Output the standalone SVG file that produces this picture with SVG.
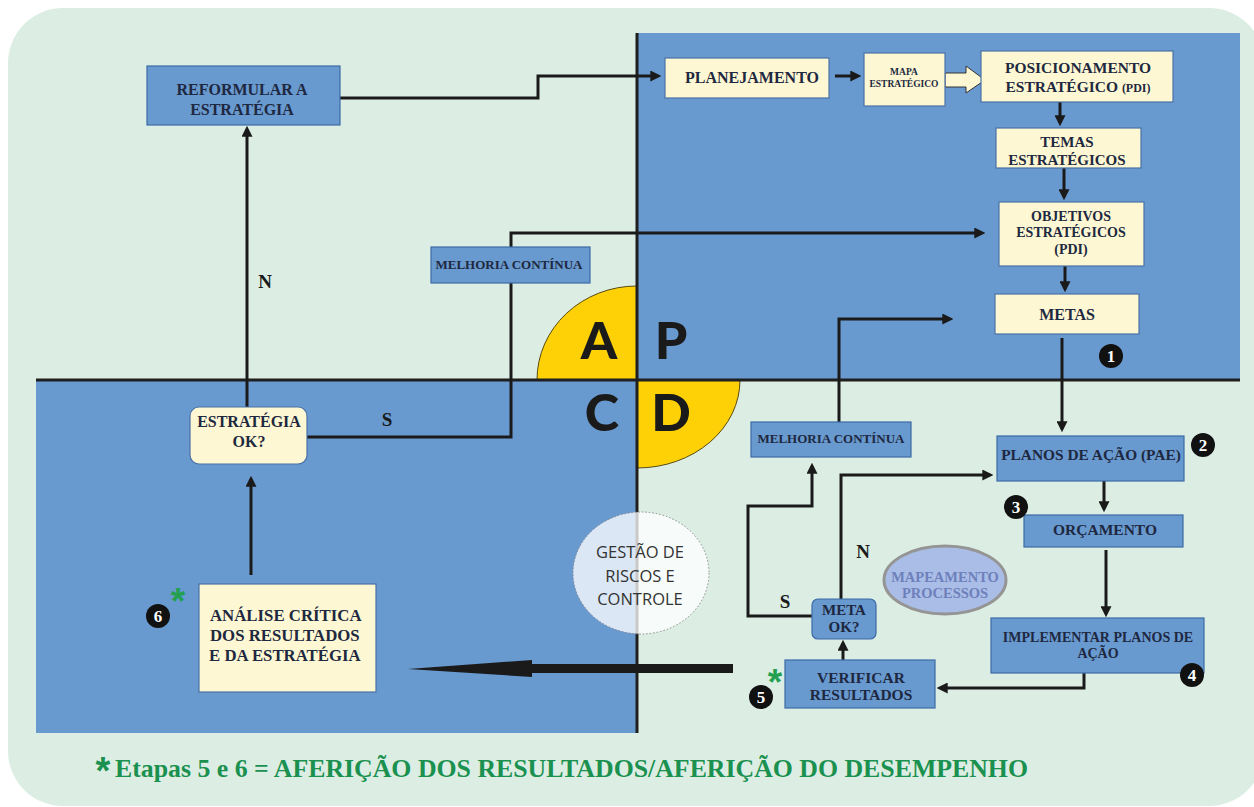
<svg xmlns="http://www.w3.org/2000/svg" width="1254" height="807" viewBox="0 0 1254 807">
<defs>
<marker id="ah" viewBox="0 0 10 10" refX="7" refY="5" markerWidth="11" markerHeight="11" markerUnits="userSpaceOnUse" orient="auto"><path d="M0,0 L10,5 L0,10 Z" fill="#1a1a1a"/></marker>
</defs>
<style>
.bx{fill:#6899CF;stroke:#3D6BA6;stroke-width:1.2}
.cr{fill:#FDF8D3;stroke:#4B72A6;stroke-width:1.2}
.t{font-family:'Liberation Serif',serif;font-weight:bold;fill:#1E2840;text-anchor:middle}
.c{fill:none;stroke:#1a1a1a;stroke-width:3;marker-end:url(#ah)}
.badge circle{fill:#111}
.badge text{font-family:'Liberation Serif',serif;font-weight:bold;font-size:17px;fill:#fff;text-anchor:middle}
.big{font-family:Lato,'Noto Sans',sans-serif;font-weight:900;font-size:52px;fill:#1a1a1a;text-anchor:middle}
.lbl{font-family:'Liberation Serif',serif;font-weight:bold;font-size:19px;fill:#1a1a1a;text-anchor:middle}
.ast{font-family:'Liberation Sans',sans-serif;font-weight:bold;font-size:37px;fill:#22A050;text-anchor:middle}
</style>
<rect x="0" y="0" width="1254" height="807" fill="#ffffff"/>
<rect x="8" y="8" width="1256" height="798" rx="55" ry="55" fill="#DCEEE4"/>
<g id="quadrants">
<rect x="637" y="33" width="603" height="347" fill="#6899CF"/>
<rect x="36" y="380" width="601" height="353" fill="#6899CF"/>
<path d="M637,380 L537,380 A100,94 0 0 1 637,286 Z" fill="#FDD106" stroke="#5a4a10" stroke-width="1"/>
<path d="M637,380 L740,380 A103,88 0 0 1 637,468 Z" fill="#FDD106" stroke="#5a4a10" stroke-width="1"/>
<line x1="36" y1="380" x2="1240" y2="380" stroke="#1f1f1f" stroke-width="3"/>
<line x1="637" y1="33" x2="637" y2="733" stroke="#1f1f1f" stroke-width="3"/>
<text class="big" x="599" y="359">A</text>
<text class="big" x="671" y="359">P</text>
<text class="big" x="602" y="431">C</text>
<text class="big" x="671" y="431">D</text>
</g>
<g id="gestao-riscos">
<ellipse cx="641" cy="573" rx="68" ry="61" fill="#ffffff" fill-opacity="0.76" stroke="#8a8a8a" stroke-width="1" stroke-dasharray="1.5,2"/>
<text font-family="'Open Sans','Noto Sans',sans-serif" font-size="16.5" fill="#333" text-anchor="middle"><tspan x="640" y="558">GESTÃO DE</tspan><tspan x="640" y="582">RISCOS E</tspan><tspan x="640" y="605">CONTROLE</tspan></text>
</g>
<g id="connectors">
<path class="c" d="M340,98 H538 V76 H658"/>
<path class="c" d="M835,76 H858"/>
<path class="c" d="M1060,102 V123"/>
<path class="c" d="M1064,168 V197"/>
<path class="c" d="M1065,266 V289"/>
<path class="c" d="M1062,338 V429"/>
<path class="c" d="M247,407 V129"/>
<path class="c" d="M307,437 H511 V233 H982"/>
<path class="c" d="M251,575 V479"/>
<path class="c" d="M839,422 V319 H950"/>
<path class="c" d="M812,616 H748 V506 H812 V466"/>
<path class="c" d="M841,599 V475 H990"/>
<path class="c" d="M1104,481 V509"/>
<path class="c" d="M1106,550 V614"/>
<path class="c" d="M1084,673 V688 H940"/>
<path class="c" d="M843,660 V643"/>
<polygon points="733,664 532,664 532,660 408,669 532,677 532,673 733,673" fill="#1a1a1a"/>
<polygon points="945,73 966,73 966,66 985,80 966,93 966,87 945,87" fill="#FDF8D3" stroke="#333" stroke-width="1"/>
<text class="lbl" x="265" y="288">N</text>
<text class="lbl" x="387" y="426">S</text>
<text class="lbl" x="863" y="558">N</text>
<text class="lbl" x="785" y="608">S</text>
</g>
<g id="reformular"><rect class="bx" x="147" y="66" width="193" height="59"/><text class="t" font-size="16"><tspan x="242" y="95">REFORMULAR A</tspan><tspan x="242" y="115">ESTRATÉGIA</tspan></text></g>
<g id="planejamento"><rect class="cr" x="665" y="58" width="164" height="40"/><text class="t" font-size="16" x="752" y="83">PLANEJAMENTO</text></g>
<g id="mapa"><rect class="cr" x="864" y="53" width="81" height="53" stroke="#333"/><text class="t" font-size="9.5"><tspan x="904" y="75">MAPA</tspan><tspan x="904" y="87">ESTRATÉGICO</tspan></text></g>
<g id="posicionamento"><rect class="cr" x="981" y="51" width="192" height="51"/><text class="t" font-size="15.5"><tspan x="1078" y="73">POSICIONAMENTO</tspan><tspan x="1078" y="92">ESTRATÉGICO <tspan font-size="12">(PDI)</tspan></tspan></text></g>
<g id="temas"><rect class="cr" x="996" y="128" width="145" height="40"/><text class="t" font-size="15"><tspan x="1067" y="147">TEMAS</tspan><tspan x="1067" y="165">ESTRATÉGICOS</tspan></text></g>
<g id="objetivos"><rect class="cr" x="999" y="202" width="145" height="64"/><text class="t" font-size="14"><tspan x="1071" y="221">OBJETIVOS</tspan><tspan x="1071" y="237">ESTRATÉGICOS</tspan><tspan x="1071" y="254">(PDI)</tspan></text></g>
<g id="metas"><rect class="cr" x="995" y="294" width="144" height="40"/><text class="t" font-size="16" x="1067" y="320">METAS</text></g>
<g id="melhoria-1"><rect class="bx" x="431" y="247" width="159" height="36"/><text class="t" font-size="13" x="509" y="269">MELHORIA CONTÍNUA</text></g>
<g id="estrategia-ok"><rect class="cr" x="190" y="407" width="117" height="57" rx="9" ry="9" stroke="#3d5a80"/><text class="t" font-size="16"><tspan x="249" y="427">ESTRATÉGIA</tspan><tspan x="249" y="447">OK?</tspan></text></g>
<g id="analise"><rect class="cr" x="199" y="584" width="177" height="108"/><text class="t" font-size="16.8" style="text-anchor:start"><tspan x="210" y="621">ANÁLISE CRÍTICA</tspan><tspan x="210" y="641">DOS RESULTADOS</tspan><tspan x="209" y="661">E DA ESTRATÉGIA</tspan></text></g>
<g id="melhoria-2"><rect class="bx" x="751" y="422" width="160" height="35"/><text class="t" font-size="13" x="831" y="443">MELHORIA CONTÍNUA</text></g>
<g id="planos"><rect class="bx" x="997" y="436" width="187" height="45"/><text class="t" font-size="15.4" x="1091" y="460">PLANOS DE AÇÃO (PAE)</text></g>
<g id="orcamento"><rect class="bx" x="1024" y="515" width="159" height="32"/><text class="t" font-size="15.5" x="1105" y="535">ORÇAMENTO</text></g>
<g id="implementar"><rect class="bx" x="991" y="618" width="213" height="55"/><text class="t" font-size="14"><tspan x="1098" y="642">IMPLEMENTAR PLANOS DE</tspan><tspan x="1098" y="658">AÇÃO</tspan></text></g>
<g id="verificar"><rect class="bx" x="785" y="660" width="150" height="48"/><text class="t" font-size="15.5"><tspan x="861" y="683">VERIFICAR</tspan><tspan x="861" y="700">RESULTADOS</tspan></text></g>
<g id="meta-ok"><rect class="bx" x="812" y="599" width="64" height="40" rx="6" ry="6"/><text class="t" font-size="15"><tspan x="844" y="615">META</tspan><tspan x="844" y="632">OK?</tspan></text></g>
<g id="mapeamento"><ellipse cx="945" cy="580" rx="61" ry="34" fill="#A9BDE6" stroke="#959595" stroke-width="3"/><text class="t" font-size="14.5" style="fill:#6E80BC"><tspan x="945" y="582">MAPEAMENTO</tspan><tspan x="945" y="598">PROCESSOS</tspan></text></g>
<g id="badges">
<g class="badge"><circle cx="1111" cy="356" r="12"/><text x="1111" y="362">1</text></g>
<g class="badge"><circle cx="1203" cy="445" r="12"/><text x="1203" y="451">2</text></g>
<g class="badge"><circle cx="1016" cy="507" r="12"/><text x="1016" y="513">3</text></g>
<g class="badge"><circle cx="1192" cy="675" r="12"/><text x="1192" y="681">4</text></g>
<g class="badge"><circle cx="761" cy="697" r="12"/><text x="761" y="703">5</text></g>
<g class="badge"><circle cx="158" cy="616" r="12"/><text x="158" y="622">6</text></g>
<text class="ast" x="178" y="614">*</text>
<text class="ast" x="775" y="695">*</text>
</g>
<g id="footer">
<text x="103" y="784" font-family="'Liberation Sans',sans-serif" font-weight="bold" font-size="38" fill="#1B9150" text-anchor="middle">*</text>
<text x="115" y="777" font-family="'Liberation Serif',serif" font-weight="bold" font-size="24.5" fill="#1B9150" textLength="913" lengthAdjust="spacingAndGlyphs">Etapas 5 e 6 = AFERIÇÃO DOS RESULTADOS/AFERIÇÃO DO DESEMPENHO</text>
</g>
</svg>
